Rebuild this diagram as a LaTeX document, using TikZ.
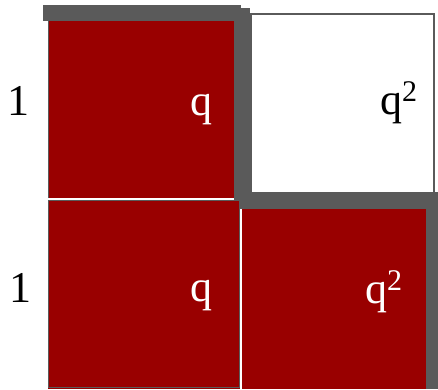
\documentclass[tikz,border=0pt]{standalone}
\usepackage{fontspec}
\setmainfont{Liberation Serif}
\definecolor{boxred}{RGB}{153,0,0}
\definecolor{shadowgray}{RGB}{90,90,90}
\newcommand{\sqtwo}{q\raisebox{13pt}{\fontsize{30}{32}\selectfont 2}}
\begin{document}
\begin{tikzpicture}[x=1pt,y=-1pt,
  shadowbar/.style={fill=shadowgray},
  redfill/.style={fill=boxred},
  lbl/.style={inner sep=0pt, anchor=base west, font=\fontsize{44}{48}\selectfont\rmfamily},
  wlbl/.style={lbl, text=white}]
\useasboundingbox (0,0) rectangle (438,389);
% shadows
\path[shadowbar] (43,5) rectangle (241,21);
\path[shadowbar] (234,8) rectangle (250,209);
\path[shadowbar] (236,193) rectangle (438,209);
\path[shadowbar] (426,192) rectangle (438,389);
% white box
\draw[draw=shadowgray, line width=1.5pt, fill=white] (250.75,13.75) rectangle (433.75,193);
% top-left red
\path[redfill] (48,21) rectangle (234,198);
\draw[shadowgray, line width=0.8pt] (48.4,21) -- (48.4,198);
\draw[white, line width=1pt] (48,198.5) -- (234,198.5);
% bottom-left red
\path[redfill] (48,200) rectangle (240,389);
\draw[shadowgray, line width=1pt] (48.5,200.5) rectangle (239.5,387.5);
% bottom-right red
\path[redfill] (242,209) rectangle (426,389);
% labels
\node[lbl] (one1) at (7,115) {1};
\node[lbl] (one2) at (9,302) {1};
\node[wlbl] (q1) at (190,115) {q};
\node[wlbl] (q2) at (190,301) {q};
\node[lbl] (q3) at (380,114) {\sqtwo};
\node[wlbl] (q4) at (365,303) {\sqtwo};
\end{tikzpicture}
\end{document}
